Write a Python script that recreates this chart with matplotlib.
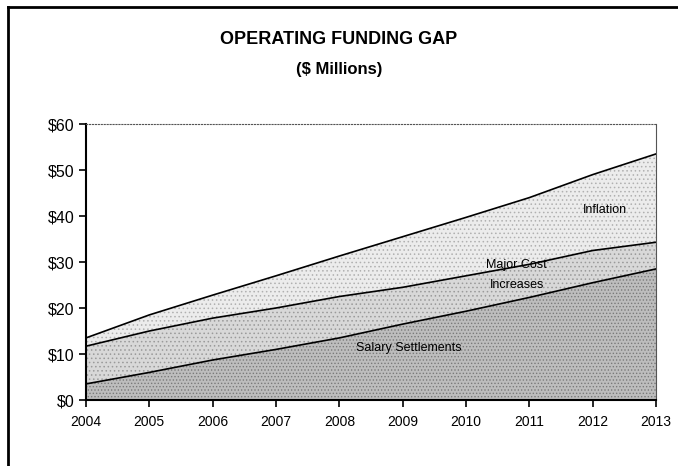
import matplotlib
matplotlib.use('Agg')
import matplotlib.pyplot as plt
import matplotlib.lines as mlines

# values ($ millions)
years = [2004, 2005, 2006, 2007, 2008, 2009, 2010, 2011, 2012, 2013]
salary = [3.5, 6.0, 8.7, 11.0, 13.5, 16.5, 19.3, 22.3, 25.5, 28.5]
major_cost = [8.2, 9.0, 9.1, 9.0, 9.0, 8.0, 7.7, 7.2, 7.0, 5.8]
inflation = [1.8, 3.5, 5.0, 7.0, 8.8, 11.0, 12.7, 14.5, 16.5, 19.2]

yticks = [0, 10, 20, 30, 40, 50, 60]
ytick_labels = ['$0', '$10', '$20', '$30', '$40', '$50', '$60']

plt.rcParams['font.family'] = ['Liberation Sans', 'DejaVu Sans']
plt.rcParams['hatch.linewidth'] = 0.6

fig = plt.figure(figsize=(6.78, 4.66), dpi=100)
ax = fig.add_axes([0.1268, 0.1416, 0.8408, 0.5923])

lvl1 = salary
lvl2 = [a + b for a, b in zip(lvl1, major_cost)]
lvl3 = [a + b for a, b in zip(lvl2, inflation)]

ax.fill_between(years, 0, lvl1, facecolor='#bdbdbd', edgecolor='#7a7a7a',
                hatch='.....', linewidth=0)
ax.fill_between(years, lvl1, lvl2, facecolor='#d8d8d8', edgecolor='#9a9a9a',
                hatch='....', linewidth=0)
ax.fill_between(years, lvl2, lvl3, facecolor='#ececec', edgecolor='#b0b0b0',
                hatch='....', linewidth=0)

ax.plot(years, lvl1, c='k', lw=1.2)
ax.plot(years, lvl2, c='k', lw=1.2)
ax.plot(years, lvl3, c='k', lw=1.2)

ax.set_xlim([2004, 2013])
ax.set_ylim([0, 60])
ax.set_xticks(years)
ax.set_xticklabels([str(y) for y in years], fontsize=10)
ax.set_yticks(yticks)
ax.set_yticklabels(ytick_labels, fontsize=11.5)
ax.tick_params(axis='both', direction='out', length=5, width=1.2, colors='k')
ax.tick_params(axis='x', pad=6)

ax.spines['left'].set_linewidth(1.5)
ax.spines['bottom'].set_linewidth(1.5)
ax.spines['top'].set_linestyle(':')
ax.spines['top'].set_linewidth(0.8)
ax.spines['top'].set_color('#555555')
ax.spines['right'].set_linewidth(0.8)
ax.spines['right'].set_color('#555555')

ax.text(2012.2, 41.4, 'Inflation', fontsize=9, ha='center', va='center')
ax.text(2010.8, 29.3, 'Major Cost', fontsize=9, ha='center', va='center')
ax.text(2010.8, 24.9, 'Increases', fontsize=9, ha='center', va='center')
ax.text(2009.1, 11.2, 'Salary Settlements', fontsize=9, ha='center', va='center')

fig.text(0.5, 0.916, 'OPERATING FUNDING GAP', fontsize=13, fontweight='bold',
         ha='center', va='center')
fig.text(0.5, 0.85, '($ Millions)', fontsize=12, fontweight='bold',
         ha='center', va='center')

# frame around the chart (left and top edges)
fig.add_artist(mlines.Line2D([0.012, 0.012], [0, 0.985], color='k', lw=2,
                             transform=fig.transFigure))
fig.add_artist(mlines.Line2D([0.012, 1.0], [0.985, 0.985], color='k', lw=2,
                             transform=fig.transFigure))

plt.savefig('out.png', dpi=100)
